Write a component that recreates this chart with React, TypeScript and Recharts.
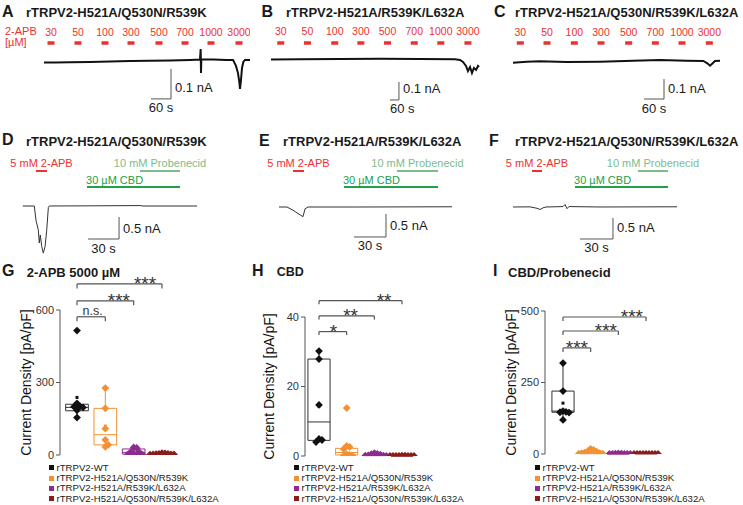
import React from 'react';
import {
  LineChart,
  Line,
  ComposedChart,
  Scatter,
  XAxis,
  YAxis,
  ReferenceLine,
  ReferenceArea,
} from 'recharts';

const FONT = '"Liberation Sans", Arial, Helvetica, sans-serif';
const INK = '#1a1a1a';
const GREY = '#555';
const RED = '#ec3030';
const GREEN = '#22a048';
const PALE_GREEN = '#7cbc8b';

// ---- A-C: 2-APB concentration series (time in s, current in nA) ----
const doseLabels = ['30', '50', '100', '300', '500', '700', '1000', '3000'];

const aTime = [132, 165, 210, 270, 330, 390, 450, 510, 570, 600, 602, 603, 604, 606, 640, 680, 699, 708, 714, 718, 720, 723, 726, 730, 735, 750];
const aCurrent = [-0.002, -0.002, -0.001, 0, 0.002, 0.003, 0.004, 0.005, 0.007, 0.008, 0.043, -0.037, 0.008, 0.008, 0.008, 0.007, 0.007, -0.013, -0.037, -0.067, -0.09, -0.06, -0.02, 0, 0.007, 0.007];
const aStim = [153, 234, 315, 393, 477, 555, 633, 717];

const bTime = [140, 333, 600, 867, 1133, 1367, 1400, 1420, 1440, 1453, 1467, 1480, 1493, 1507, 1520, 1527];
const bCurrent = [-0.001, 0, 0.002, 0.003, 0.002, 0, -0.004, -0.015, -0.037, -0.065, -0.043, -0.076, -0.048, -0.059, -0.037, -0.043];
const bStim = [205, 383, 565, 739, 917, 1095, 1272, 1453];

const cTime = [39, 80, 120, 200, 300, 399, 480, 560, 610, 622, 630, 638, 645, 660];
const cCurrent = [-0.0035, 0.0015, 0.0035, 0, 0.0015, 0.0065, 0.01, 0.0065, 0.005, -0.0065, -0.0185, -0.0065, 0.005, 0.0065];
const cStim = [61, 141, 223, 303, 386, 466, 546, 628];

// ---- D-F: 2-APB, CBD, probenecid ----
const dTime = [22, 33.2, 34.8, 37.1, 38.0, 39.0, 40.4, 41.9, 43.6, 45.2, 46.8, 47.7, 96.8, 135.5, 138.4, 190.7];
const dCurrent = [0, 0, -0.32, -0.55, -0.84, -0.66, -0.92, -1.07, -0.92, -0.55, -0.03, 0, 0.005, 0.01, 0, 0];
const dApb = [34.8, 45.5];
const dProb = [135.5, 174.2];
const dCbd = [84.2, 174.2];

const eTime = [27.2, 34.7, 40.3, 46.9, 49.7, 51.6, 54.4, 103, 189.4];
const eCurrent = [0, 0, -0.07, -0.17, -0.21, -0.04, 0, 0, 0.005];
const eApb = [40.3, 50.6];
const eProb = [137.8, 176.3];
const eCbd = [88.1, 176.3];

const fTime = [11.8, 27.3, 33.6, 36.4, 39.1, 41.8, 57.3, 59.1, 60.9, 62.7, 90.9, 160.9];
const fCurrent = [0, 0.003, -0.03, -0.06, -0.02, 0, 0.01, 0.06, -0.04, 0.01, 0, 0.005];
const fApb = [29.1, 38.2];
const fProb = [125.4, 152.7];
const fCbd = [68.2, 152.7];

// ---- G-I: current density (pA/pF) ----
const groupNames = ['rTRPV2-WT', 'rTRPV2-H521A/Q530N/R539K', 'rTRPV2-H521A/R539K/L632A', 'rTRPV2-H521A/Q530N/R539K/L632A'];
const groupColors = ['#111111', '#f39031', '#8e2b8f', '#8a1c1c'];
const boxColors = ['#333333', '#f39031', '#8e2b8f', '#8a1c1c'];

const gWT = [515, 214, 201, 200, 197, 185, 155];
const gQ530N = [277, 193, 109, 63, 42, 34];
const gL632A = [31, 29, 12, 10, 5, 3, 1, 0];
const gQuad = [8, 7, 5, 5, 4, 3, 2, 2, 1];
// [low, q1, median, q3, high]
const gBox = [[155, 183, 197, 210, 214], [34, 42, 84, 193, 277], [0, 4, 11, 25, 31], [1, 2, 4, 5, 8]];
const gPairs = [[0, 3], [0, 2], [0, 1]];
const gBracketY = [708, 638, 572];
const gMarks = ['***', '***', 'n.s.'];

const hWT = [30.2, 27.9, 14.7, 4.9, 4.6, 4.0];
const hQ530N = [13.8, 2.9, 2.6, 2.0, 0.5, 0.3, 0.1, 0];
const hL632A = [0.8, 0.6, 0.5, 0.4, 0.2, 0.1, 0.1, 0];
const hQuad = [0.1, 0.1, 0.05, 0, 0, 0, 0, 0, 0];
const hBox = [[4.0, 4.5, 9.8, 27.9, 30.2], [0, 0.3, 1.0, 2.2, 2.9], [0, 0.1, 0.3, 0.5, 0.8], [0, 0, 0, 0.05, 0.1]];
const hPairs = [[0, 3], [0, 2], [0, 1]];
const hBracketY = [44.7, 40.3, 35.8];
const hMarks = ['**', '**', '*'];

const iWT = [318, 220, 150, 147, 146, 145, 119];
const iQ530N = [18, 14, 10, 8, 5, 3, 2, 1, 0];
const iL632A = [2, 1.5, 1, 0.5, 0, 0, 0, 0];
const iQuad = [0.5, 0, 0, 0, 0, 0, 0, 0, 0];
const iBox = [[119, 146, 150, 220, 318], [0, 1, 4, 10, 18], [0, 0, 0.5, 1, 2], [0, 0, 0, 0, 0.5]];
const iPairs = [[0, 3], [0, 2], [0, 1]];
const iBracketY = [479, 430, 371];
const iMarks = ['***', '***', '***'];

// ---------- helpers ----------
function T({ x, y, size = 11, bold = false, color = INK, children }: any) {
  return (
    <div
      style={{
        position: 'absolute',
        left: x,
        top: y - 0.8465 * size,
        fontSize: size,
        lineHeight: `${size}px`,
        fontWeight: bold ? 700 : 400,
        color,
        whiteSpace: 'nowrap',
        fontFamily: FONT,
      }}
    >
      {children}
    </div>
  );
}

const textLabel = (text: string, o: any = {}) => (p: any) => {
  const vb = p.viewBox;
  if (!vb) return null;
  const x = vb.x + (o.at ?? 0.5) * vb.width + (o.dx ?? 0);
  const y = (o.fromBottom ? vb.y + vb.height : vb.y) + (o.dy ?? 0);
  return (
    <text x={x} y={y} textAnchor={o.anchor ?? 'middle'} fontSize={o.size ?? 11} fill={o.color ?? INK} fontFamily={FONT}>
      {text}
    </text>
  );
};

const dash = (key: string, t0: number, t1: number, level: number, color: string, width: number, label?: any) => (
  <ReferenceLine
    key={key}
    segment={[{ x: t0, y: level }, { x: t1, y: level }]}
    stroke={color}
    strokeWidth={width}
    ifOverflow="visible"
    label={label}
  />
);

const doseDashes = (key: string, centres: number[], dur: number, level: number) =>
  centres.map((c, k) =>
    dash(key + k, c - dur / 2, c + dur / 2, level, RED, 3.5, textLabel(doseLabels[k], { dy: -7.5, color: RED, size: 10.5 })),
  );

const drugBars = (key: string, apb: number[], prob: number[], cbd: number[], hi: number, lo: number) => [
  dash(key + 'apb', apb[0], apb[1], hi, RED, 2, textLabel('5 mM 2-APB', { dy: -4.3, color: RED, size: 11 })),
  dash(key + 'prob', prob[0], prob[1], hi, PALE_GREEN, 2, textLabel('10 mM Probenecid', { dy: -4.3, color: PALE_GREEN, size: 11 })),
  dash(key + 'cbd', cbd[0], cbd[1], lo, GREEN, 2, textLabel('30 µM CBD', { at: 0, dx: -1, dy: -2.7, anchor: 'start', color: GREEN, size: 11 })),
];

const scaleBar = (key: string, corner: number[], dt: number, di: number, yText: string, xText: string, xAnchor = 'middle') => {
  const [t, i] = corner;
  return [
    <ReferenceLine
      key={key + 'v'}
      segment={[{ x: t, y: i + di }, { x: t, y: i }]}
      stroke={GREY}
      strokeWidth={1}
      ifOverflow="visible"
      label={textLabel(yText, { at: 0, dx: 4, dy: -6.5, fromBottom: true, anchor: 'start', size: 13 })}
    />,
    <ReferenceLine
      key={key + 'h'}
      segment={[{ x: t - dt, y: i }, { x: t, y: i }]}
      stroke={GREY}
      strokeWidth={1}
      ifOverflow="visible"
      label={textLabel(xText, xAnchor === 'start' ? { at: 0, anchor: 'start', dy: 13.5, size: 13 } : { dy: 13.5, size: 13 })}
    />,
  ];
};

function TracePanel({ box, xMax, yDomain, time, current, stroke, strokeWidth, children }: any) {
  const data = time.map((t: number, k: number) => ({ t, i: current[k] }));
  return (
    <div style={{ position: 'absolute', left: box.left, top: box.top }}>
      <LineChart width={box.width} height={box.height} data={data} margin={{ top: 0, right: 0, bottom: 0, left: 0 }}>
        <XAxis dataKey="t" type="number" domain={[0, xMax]} hide allowDataOverflow />
        <YAxis type="number" domain={yDomain} hide allowDataOverflow />
        {children}
        <Line dataKey="i" type="linear" stroke={stroke} strokeWidth={strokeWidth} dot={false} isAnimationActive={false} />
      </LineChart>
    </div>
  );
}

// simple beeswarm: horizontal offsets in px so points do not pile on each other
function swarm(values: number[], pxPerUnit: number, step = 3, minDy = 6) {
  const placed: number[][] = [];
  return values.map((v) => {
    const y = v * pxPerUnit;
    for (let k = 0; k < 60; k++) {
      const dx = k === 0 ? 0 : (k % 2 === 1 ? 1 : -1) * Math.ceil(k / 2) * step;
      const clash = placed.some(([px, py]) => Math.abs(px - dx) < step - 1e-6 && Math.abs(py - y) < minDy);
      if (!clash) {
        placed.push([dx, y]);
        return dx;
      }
    }
    return 0;
  });
}

const diamond = (p: any) => {
  const { cx, cy, fill } = p;
  if (cx == null || cy == null) return <g />;
  const r = 3.9;
  return <path d={`M${cx},${cy - r}L${cx + r},${cy}L${cx},${cy + r}L${cx - r},${cy}Z`} fill={fill} />;
};

const meanMark = (p: any) => {
  if (p.cx == null || p.cy == null) return <g />;
  return <rect x={p.cx - 1.5} y={p.cy - 1.5} width={3} height={3} fill={p.fill} />;
};

const yLabel = (offset: number) => (p: any) => {
  const vb = p.viewBox;
  if (!vb) return null;
  const x = vb.x + offset;
  const y = vb.y + vb.height / 2;
  return (
    <text x={x} y={y} transform={`rotate(-90 ${x} ${y})`} textAnchor="middle" dominantBaseline="central" fontSize={14} fill="#111" fontFamily={FONT}>
      Current Density [pA/pF]
    </text>
  );
};

function DensityPanel({ layout, sets, boxes, pairs, bracketY, marks, markAt, yMax, ticks, tickLen }: any) {
  const { left, top, width, height, margin, axisWidth, xDomain, yLabelX } = layout;
  const plotW = width - margin.left - margin.right - axisWidth;
  const plotH = height - margin.top - margin.bottom;
  const pxPerCat = plotW / (xDomain[1] - xDomain[0]);
  const pxPerUnit = plotH / yMax;
  const hw = 0.4;

  return (
    <div style={{ position: 'absolute', left, top }}>
      <ComposedChart width={width} height={height} margin={margin}>
        <XAxis type="number" dataKey="x" domain={xDomain} hide allowDataOverflow />
        <YAxis
          type="number"
          dataKey="y"
          domain={[0, yMax]}
          ticks={ticks}
          interval={0}
          width={axisWidth}
          tickSize={4}
          tickMargin={2}
          axisLine={{ stroke: GREY }}
          tickLine={{ stroke: GREY }}
          tick={{ fontSize: 11, fill: '#333', fontFamily: FONT }}
          allowDataOverflow
          label={yLabel(yLabelX)}
        />
        {boxes.map((b: number[], k: number) => [
          <ReferenceLine key={`wl${k}`} segment={[{ x: k, y: b[0] }, { x: k, y: b[1] }]} stroke={boxColors[k]} ifOverflow="visible" />,
          <ReferenceLine key={`wh${k}`} segment={[{ x: k, y: b[3] }, { x: k, y: b[4] }]} stroke={boxColors[k]} ifOverflow="visible" />,
          <ReferenceArea key={`bx${k}`} x1={k - hw} x2={k + hw} y1={b[1]} y2={b[3]} fill="none" fillOpacity={0} stroke={boxColors[k]} strokeWidth={1} ifOverflow="visible" />,
          <ReferenceLine key={`md${k}`} segment={[{ x: k - hw, y: b[2] }, { x: k + hw, y: b[2] }]} stroke={boxColors[k]} ifOverflow="visible" />,
        ])}
        {pairs.map((pr: number[], k: number) => {
          const y = bracketY[k];
          const dy = tickLen / pxPerUnit;
          const frac = (markAt[k] - pr[0]) / (pr[1] - pr[0]);
          const isText = marks[k] === 'n.s.';
          return [
            <ReferenceLine
              key={`br${k}`}
              segment={[{ x: pr[0], y }, { x: pr[1], y }]}
              stroke={GREY}
              strokeWidth={1.2}
              ifOverflow="visible"
              label={textLabel(marks[k], { at: frac, dy: isText ? -2 : 6, size: isText ? 12.5 : 19, color: '#333' })}
            />,
            <ReferenceLine key={`bl${k}`} segment={[{ x: pr[0], y }, { x: pr[0], y: y - dy }]} stroke={GREY} strokeWidth={1.2} ifOverflow="visible" />,
            <ReferenceLine key={`bs${k}`} segment={[{ x: pr[1], y }, { x: pr[1], y: y - dy }]} stroke={GREY} strokeWidth={1.2} ifOverflow="visible" />,
          ];
        })}
        {sets.map((vals: number[], k: number) => (
          <Scatter
            key={`mean${k}`}
            data={[{ x: k, y: vals.reduce((s, v) => s + v, 0) / vals.length }]}
            fill={k === 0 ? '#111' : groupColors[k]}
            shape={meanMark}
            isAnimationActive={false}
          />
        ))}
        {sets.map((vals: number[], k: number) => {
          const offs = swarm(vals, pxPerUnit);
          const data = vals.map((v, n) => ({ x: k + offs[n] / pxPerCat, y: v }));
          return <Scatter key={`pts${k}`} name={groupNames[k]} data={data} fill={groupColors[k]} shape={diamond} isAnimationActive={false} />;
        })}
      </ComposedChart>
    </div>
  );
}

function GroupLegend({ x, y }: { x: number; y: number }) {
  return (
    <>
      {groupNames.map((name, k) => (
        <React.Fragment key={name}>
          <div style={{ position: 'absolute', left: x, top: y + k * 10.2 - 2.5, width: 5, height: 5, background: groupColors[k] }} />
          <T x={x + 8} y={y + k * 10.2 + 3.4} size={9.6} color="#222">
            {name}
          </T>
        </React.Fragment>
      ))}
    </>
  );
}

const gLayout = { left: 0, top: 262, width: 200, height: 200, margin: { top: 48, right: 10, bottom: 7, left: 0 }, axisWidth: 60, xDomain: [-0.6, 3.989], yLabelX: 26 };
const hLayout = { left: 250, top: 262, width: 170, height: 200, margin: { top: 55, right: 0, bottom: 6, left: 0 }, axisWidth: 55, xDomain: [-0.506, 3.65], yLabelX: 19 };
const iLayout = { left: 500, top: 262, width: 170, height: 200, margin: { top: 49, right: 0, bottom: 8, left: 0 }, axisWidth: 45, xDomain: [-0.6505, 3.867], yLabelX: 11 };

export default function App() {
  return (
    <div style={{ position: 'absolute', left: 0, top: 0, width: 743, height: 505, background: '#fff', overflow: 'hidden', fontFamily: FONT }}>
      {/* row 1 */}
      <TracePanel box={{ left: 0, top: 20, width: 250, height: 96 }} xMax={750} yDomain={[-0.18, 0.14]} time={aTime} current={aCurrent} stroke="#111" strokeWidth={2}>
        {doseDashes('a', aStim, 21, 0.0633)}
        {scaleBar('a', [513, -0.123], 60, 0.1, '0.1 nA', '60 s')}
      </TracePanel>
      <TracePanel box={{ left: 250, top: 20, width: 250, height: 96 }} xMax={1666.7} yDomain={[-0.315, 0.2183]} time={bTime} current={bCurrent} stroke="#111" strokeWidth={2}>
        {doseDashes('b', bStim, 46.7, 0.0906)}
        {scaleBar('b', [993, -0.226], 60, 0.1, '0.1 nA', '60 s', 'start')}
      </TracePanel>
      <TracePanel box={{ left: 500, top: 20, width: 243, height: 96 }} xMax={729} yDomain={[-0.27, 0.21]} time={cTime} current={cCurrent} stroke="#111" strokeWidth={2}>
        {doseDashes('c', cStim, 21, 0.095)}
        {scaleBar('c', [492, -0.185], 60, 0.1, '0.1 nA', '60 s')}
      </TracePanel>

      <T x={2} y={17.5} size={16} bold>A</T>
      <T x={26} y={17.5} size={13} bold>rTRPV2-H521A/Q530N/R539K</T>
      <T x={5} y={35.5} size={11} color={RED}>2-APB</T>
      <T x={5} y={46.5} size={11} color={RED}>[µM]</T>
      <T x={261.5} y={17.5} size={16} bold>B</T>
      <T x={286} y={17.5} size={13} bold>rTRPV2-H521A/R539K/L632A</T>
      <T x={494} y={17.5} size={16} bold>C</T>
      <T x={515} y={17.5} size={13} bold>rTRPV2-H521A/Q530N/R539K/L632A</T>

      {/* row 2 */}
      <TracePanel box={{ left: 0, top: 150, width: 250, height: 110 }} xMax={241.9} yDomain={[-1.227, 1.273]} time={dTime} current={dCurrent} stroke="#333" strokeWidth={1}>
        {drugBars('d', dApb, dProb, dCbd, 0.795, 0.432)}
        {scaleBar('d', [115.2, -0.75], 30, 0.5, '0.5 nA', '30 s')}
      </TracePanel>
      <TracePanel box={{ left: 250, top: 150, width: 250, height: 110 }} xMax={234.4} yDomain={[-1.152, 1.239]} time={eTime} current={eCurrent} stroke="#333" strokeWidth={1}>
        {drugBars('e', eApb, eProb, eCbd, 0.783, 0.435)}
        {scaleBar('e', [127.5, -0.652], 30, 0.5, '0.5 nA', '30 s')}
      </TracePanel>
      <TracePanel box={{ left: 500, top: 150, width: 243, height: 110 }} xMax={220.9} yDomain={[-1.262, 1.357]} time={fTime} current={fCurrent} stroke="#333" strokeWidth={1}>
        {drugBars('f', fApb, fProb, fCbd, 0.857, 0.476)}
        {scaleBar('f', [102.7, -0.762], 30, 0.5, '0.5 nA', '30 s')}
      </TracePanel>

      <T x={2} y={146} size={16} bold>D</T>
      <T x={26} y={146} size={13} bold>rTRPV2-H521A/Q530N/R539K</T>
      <T x={259} y={146.5} size={16} bold>E</T>
      <T x={283} y={146.5} size={13} bold>rTRPV2-H521A/R539K/L632A</T>
      <T x={489} y={146.5} size={16} bold>F</T>
      <T x={515} y={146.5} size={13} bold>rTRPV2-H521A/Q530N/R539K/L632A</T>

      {/* row 3 */}
      <DensityPanel
        layout={gLayout}
        sets={[gWT, gQ530N, gL632A, gQuad]}
        boxes={gBox}
        pairs={gPairs}
        bracketY={gBracketY}
        marks={gMarks}
        markAt={[2.4, 1.48, 0.55]}
        yMax={600}
        ticks={[0, 300, 600]}
        tickLen={4.5}
      />
      <DensityPanel
        layout={hLayout}
        sets={[hWT, hQ530N, hL632A, hQuad]}
        boxes={hBox}
        pairs={hPairs}
        bracketY={hBracketY}
        marks={hMarks}
        markAt={[2.35, 1.14, 0.52]}
        yMax={40}
        ticks={[0, 20, 40]}
        tickLen={3.5}
      />
      <DensityPanel
        layout={iLayout}
        sets={[iWT, iQ530N, iL632A, iQuad]}
        boxes={iBox}
        pairs={iPairs}
        bracketY={iBracketY}
        marks={iMarks}
        markAt={[2.49, 1.55, 0.5]}
        yMax={500}
        ticks={[0, 250, 500]}
        tickLen={4}
      />

      <T x={2} y={276.7} size={16} bold>G</T>
      <T x={26.7} y={276.7} size={13} bold>2-APB 5000 µM</T>
      <T x={252} y={276.7} size={16} bold>H</T>
      <T x={276.7} y={276.7} size={12.5} bold>CBD</T>
      <T x={493} y={276.7} size={16} bold>I</T>
      <T x={508} y={277} size={13} bold>CBD/Probenecid</T>

      <GroupLegend x={48.5} y={467.8} />
      <GroupLegend x={293.5} y={467.8} />
      <GroupLegend x={534.5} y={467.8} />
    </div>
  );
}
